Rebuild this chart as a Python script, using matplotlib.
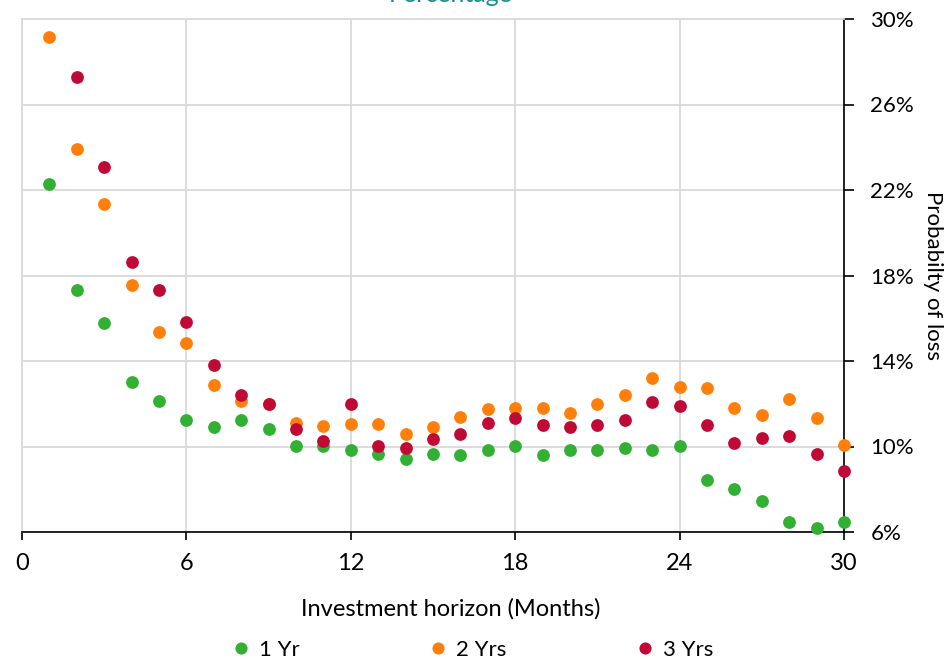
import matplotlib.pyplot as plt
from matplotlib.ticker import FuncFormatter

plt.rcParams['font.family'] = ['Lato', 'DejaVu Sans']

# Investment horizon in months
months = list(range(1, 31))

# Probability of loss (%) by holding period
loss_1yr = [22.26, 17.32, 15.76, 13.03, 12.14, 11.24, 10.90, 11.24, 10.82, 10.01,
            10.01, 9.84, 9.66, 9.42, 9.66, 9.59, 9.84, 10.01, 9.59, 9.84,
            9.84, 9.92, 9.84, 10.01, 8.43, 8.03, 7.45, 6.45, 6.20, 6.45]
loss_2yr = [29.17, 23.90, 21.34, 17.57, 15.37, 14.86, 12.88, 12.14, 11.99, 11.09,
            10.97, 11.07, 11.07, 10.57, 10.90, 11.39, 11.74, 11.82, 11.82, 11.58,
            11.99, 12.39, 13.22, 12.80, 12.72, 11.82, 11.49, 12.22, 11.32, 10.08]
loss_3yr = [None, 27.27, 23.09, 18.63, 17.32, 15.84, 13.80, 12.39, 11.99, 10.82,
            10.26, 11.99, 10.01, 9.93, 10.34, 10.57, 11.09, 11.32, 10.99, 10.91,
            10.99, 11.24, 12.07, 11.89, 10.99, 10.16, 10.41, 10.49, 9.66, 8.84]

series = [
    ("1 Yr", loss_1yr, "#31b034"),
    ("2 Yrs", loss_2yr, "#ff7f0a"),
    ("3 Yrs", loss_3yr, "#c00a35"),
]

x_ticks = [0, 6, 12, 18, 24, 30]
y_ticks = [6, 10, 14, 18, 22, 26, 30]

fig = plt.figure(figsize=(9.48, 6.61), dpi=100)
ax = fig.add_axes([22 / 948, 129 / 661, 822 / 948, 513 / 661])

for label, values, color in series:
    xs = [m for m, v in zip(months, values) if v is not None]
    ys = [v for v in values if v is not None]
    ax.plot(xs, ys, linestyle="none", marker="o", markersize=9.2,
            markeredgewidth=0, color=color, label=label, clip_on=False, zorder=3)

ax.set_xlim(0, 30)
ax.set_ylim(6, 30)
ax.set_xticks(x_ticks)
ax.set_yticks(y_ticks)
ax.yaxis.set_major_formatter(FuncFormatter(lambda v, _: f"{v:.0f}%"))

ax.yaxis.tick_right()
ax.tick_params(axis="x", direction="out", length=6, width=1.2, labelsize=17,
               pad=9, colors="black")
ax.tick_params(axis="y", direction="out", length=7, width=1.2, labelsize=16,
               pad=12, colors="black")

ax.grid(True, color="#d9d9d9", linewidth=1.3)
ax.set_axisbelow(True)
for side in ("left", "top"):
    ax.spines[side].set_color("#d9d9d9")
    ax.spines[side].set_linewidth(1.3)
for side in ("bottom", "right"):
    ax.spines[side].set_color("black")
    ax.spines[side].set_linewidth(1.2)
    ax.spines[side].set_zorder(2.5)

ax.set_xlabel("Investment horizon (Months)", fontsize=17)
ax.xaxis.set_label_coords(0.522, -0.128)

fig.text(933 / 948, 1 - 275 / 661, "Probabilty of loss", fontsize=16,
         rotation=-90, ha="center", va="center")

fig.text(0.475, 1 - 2 / 661, "Percentage", color="#1a8a96", fontsize=18,
         ha="center", va="baseline")

ax.legend(loc="center", bbox_to_anchor=(474 / 948, 11 / 661),
          bbox_transform=fig.transFigure, ncol=3, frameon=False, fontsize=16,
          handlelength=0.6, handletextpad=0.5, columnspacing=5.95,
          markerscale=0.95)

fig.savefig("out.png", dpi=100)
